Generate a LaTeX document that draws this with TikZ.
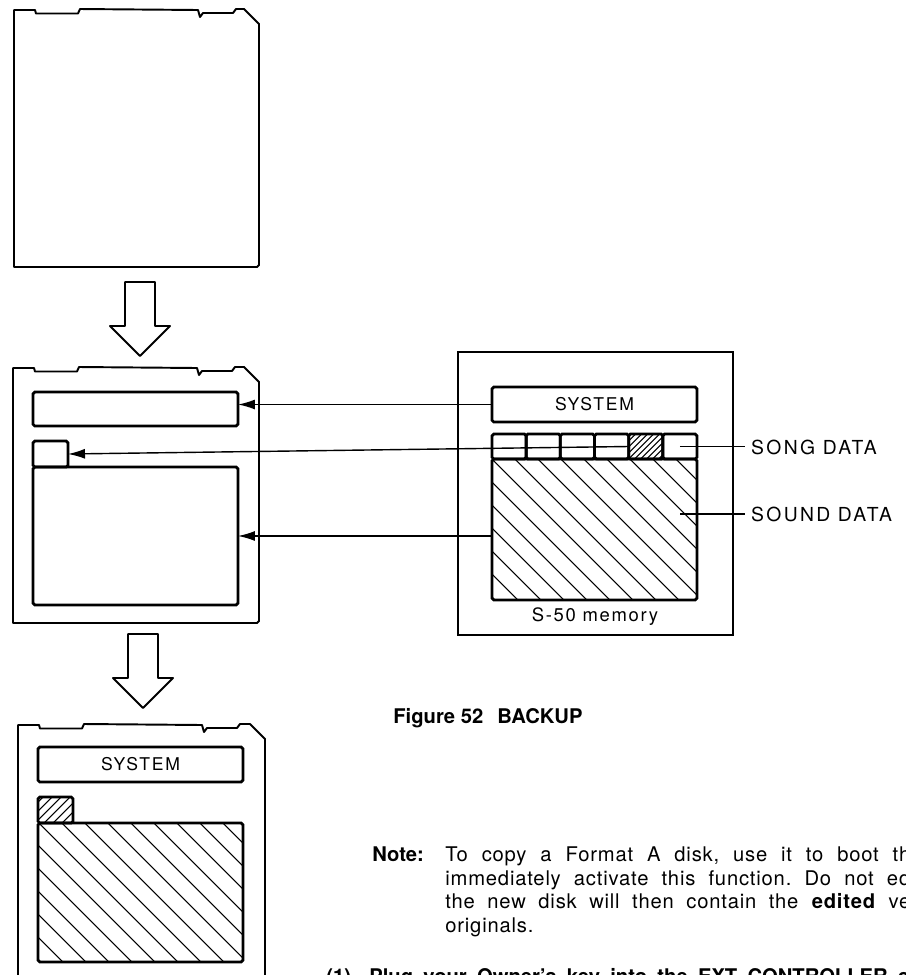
\documentclass[tikz,border=0pt]{standalone}
\usepackage{fontspec}
\setmainfont{TeX Gyre Heros}
\usepackage{tikz}
\usetikzlibrary{positioning,arrows.meta,calc}
\frenchspacing

\begin{document}
\begin{tikzpicture}[
    x=0.02cm, y=-0.02cm,
    disk/.style={line width=1.1pt, line join=round},
    area/.style={rectangle, draw, line width=1.6pt, rounded corners=1pt, anchor=north west, inner sep=0pt, outer sep=0pt},
    lbl/.style={font=\fontsize{10}{12}\selectfont\addfontfeature{LetterSpace=10}},
    side/.style={anchor=west, font=\fontsize{11}{13}\selectfont\addfontfeature{LetterSpace=12}},
    hatch/.style={line width=0.6pt},
    lead/.style={line width=0.8pt},
    arr/.style={-{Latex[length=3.4mm,width=2mm]}, line width=0.8pt},
    bigarrow/.style={line width=1.1pt, line join=round},
    txt/.style={anchor=base west, inner sep=0pt, font=\fontsize{11.5}{13.8}\selectfont\addfontfeature{LetterSpace=4}},
    txtbold/.style={txt, font=\fontsize{11.5}{13.8}\selectfont\bfseries}
  ]
    \useasboundingbox (0,0) rectangle (906,975);
    \fill[white] (0,0) rectangle (906,975);
    \clip (0,0) rectangle (906,975);

    \foreach \dx/\dy/\dw/\dh in {14/10/245/257, 13/368/246/255, 18/725/247/290}
      \draw[disk, shift={(\dx,\dy)}] (0,0) -- (21,0) -- (22,3.5) -- (64,3.5) -- (66,-1) -- (184,0)
        -- (186,7) -- (189,3) -- (219,3) -- (222,-1) -- (\dw-15,-1) -- (\dw,14)
        -- (\dw,\dh-2) -- (\dw-2,\dh) -- (0,\dh) -- cycle;

    \foreach \ax/\ay in {140/282, 143/634}
      \draw[bigarrow, shift={(\ax,\ay)}] (-15,0) -- (15,0) -- (15,44) -- (30,44) -- (0,74)
        -- (-30,44) -- (-15,44) -- cycle;

    \node[area, minimum width=4.1cm, minimum height=0.68cm] (dsys) at (33,392) {};
    \node[area, minimum width=0.7cm, minimum height=0.52cm] (dsong) at (33,441) {};
    \node[area, minimum width=4.1cm, minimum height=2.76cm] (dsound) at (33,467) {};

    \node[rectangle, draw, line width=0.9pt, anchor=north west, inner sep=0pt,
      minimum width=5.5cm, minimum height=5.66cm] (mem) at (457,351) {};
    \node[area, lbl, minimum width=4.1cm, minimum height=0.7cm] (msys) at (492,387) {SYSTEM};
    \foreach \i in {0,...,5}
      \node[area, minimum width=0.683cm, minimum height=0.5cm] (cell\i) at ({492+34.17*\i},434) {};
    \node[area, minimum width=4.1cm, minimum height=2.82cm] (msound) at (492,459) {};
    \node[lbl, font=\fontsize{10.5}{12}\selectfont\addfontfeature{LetterSpace=9}] (memlbl) at (595,617) {S-50 memory};

    \begin{scope}
      \clip (msound.north west) rectangle (msound.south east);
      \foreach \c in {-138,-115,...,207}
        \draw[hatch] ($(msound.north west)+(\c,0)$) -- ++(300,300);
    \end{scope}
    \begin{scope}
      \clip (cell4.north west) rectangle (cell4.south east);
      \foreach \c in {-30,-24,...,40}
        \draw[hatch] ($(cell4.south west)+(\c,0)$) -- ++(40,-40);
    \end{scope}

    \node[area, lbl, minimum width=4.1cm, minimum height=0.7cm] (bsys) at (38,747) {SYSTEM};
    \node[area, minimum width=0.7cm, minimum height=0.52cm] (bsong) at (38,797) {};
    \node[area, minimum width=4.1cm, minimum height=2.78cm] (bsound) at (38,823) {};

    \begin{scope}
      \clip (bsound.north west) rectangle (bsound.south east);
      \foreach \c in {-137,-114,...,208}
        \draw[hatch] ($(bsound.north west)+(\c,0)$) -- ++(300,300);
    \end{scope}
    \begin{scope}
      \clip (bsong.north west) rectangle (bsong.south east);
      \foreach \c in {-30,-21,...,40}
        \draw[hatch] ($(bsong.south west)+(\c,0)$) -- ++(40,-40);
    \end{scope}

    \draw[arr] (msys.west) -- (msys.west -| dsys.east);
    \draw[arr] (cell4.west) -- (dsong.east);
    \draw[arr] (dsound.east -| msound.west) -- (dsound.east);

    \node[side] (songlbl) at (745,447) {SONG DATA};
    \node[side] (soundlbl) at (745,514) {SOUND DATA};
    \coordinate (soundpt) at (680,514);
    \draw[lead] (cell5.center) -- (cell5.center -| songlbl.west);
    \draw[lead] (soundpt) -- (soundlbl.west);

    \node[anchor=base west, inner sep=0pt, font=\fontsize{11.5}{14}\selectfont\bfseries] (caption)
      at (393,723) {Figure 52\hspace{0.7em}BACKUP};

    \node[txtbold] (notelbl) at (372,861) {Note:};
    \node[txt] (note1) at (445,861) {\makebox[9.3cm][s]{To copy a Format A disk, use it to boot th}};
    \node[txt] (note2) at (445,885) {\makebox[9.3cm][s]{immediately activate this function. Do not ed}};
    \node[txt] (note3) at (445,908) {\makebox[9.3cm][s]{the new disk will then contain the \textbf{edited} ve}};
    \node[txt] (note4) at (445,932) {originals.};
    \node[txtbold] (stepnum) at (326,983) {(1)};
    \node[txtbold] (steptxt) at (369,983) {\makebox[10.8cm][s]{Plug your Owner's key into the EXT CONTROLLER c}};
  \end{tikzpicture}
\end{document}
